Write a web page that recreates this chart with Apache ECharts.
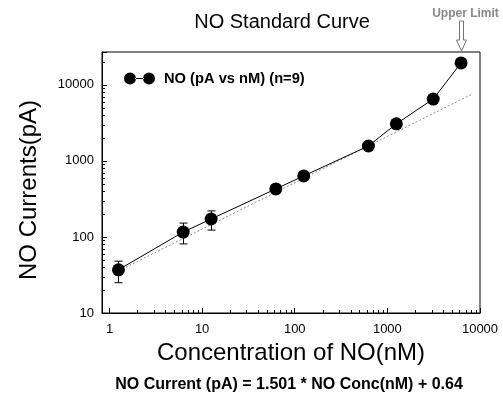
<!DOCTYPE html>
<html lang="en">
<head>
<meta charset="UTF-8">
<title>NO Standard Curve</title>
<script src="https://cdn.jsdelivr.net/npm/echarts@6/dist/echarts.min.js"></script>
<style>
    html, body { margin: 0; padding: 0; background: #fff; }
    #main { width: 503px; height: 407px; }
</style>
</head>
<body>
<div id="main"></div>
<script>
// standard curve data: concentration (nM) vs current (pA)
var conc = [1.25, 6.25, 12.5, 62.5, 125, 625, 1250, 3125, 6250];
var current = [37, 116, 172, 428, 635, 1570, 3070, 6500, 19400];
// error bars (only the first three stick out of the markers)
var errConc = [1.25, 6.25, 12.5];
var errLow = [25, 81, 123];
var errHigh = [48, 152, 220];
// regression line end points
var fitConc = [1.15, 8300];
var fitCurrent = [34, 7600];
// axes
var xMin = 0.83, xMax = 10000;
var yMin = 10, yMax = 27000;
var xMinor = [2, 3, 4, 5, 6, 7, 8, 9, 20, 30, 40, 50, 60, 70, 80, 90,
    200, 300, 400, 500, 600, 700, 800, 900, 2000, 3000, 4000, 5000, 6000, 7000, 8000, 9000];
var yMinor = [20, 30, 40, 50, 60, 70, 80, 90, 200, 300, 400, 500, 600, 700, 800, 900,
    2000, 3000, 4000, 5000, 6000, 7000, 8000, 9000, 20000];
var upperLimitConc = 6250;

var font = '"Liberation Sans", Arial, sans-serif';
var seriesName = 'NO (pA vs nM) (n=9)';

function powLabel(v) {
    var l = Math.log10(v);
    return Math.abs(l - Math.round(l)) < 1e-6 ? String(Math.round(v)) : '';
}

var myChart = echarts.init(document.getElementById('main'));

var option = {
    animation: false,
    backgroundColor: '#fff',
    title: [{
        text: 'NO Standard Curve',
        left: 277,
        top: 7,
        textAlign: 'center',
        textStyle: { fontFamily: font, fontSize: 20, fontWeight: 'normal', color: '#000' }
    }, {
        text: 'NO Current (pA) = 1.501 * NO Conc(nM) + 0.64',
        left: 284,
        top: 372,
        textAlign: 'center',
        textStyle: { fontFamily: font, fontSize: 16, fontWeight: 'bold', color: '#000' }
    }],
    legend: {
        left: 119,
        top: 66,
        itemWidth: 31,
        itemHeight: 13,
        textStyle: { fontFamily: font, fontSize: 14.7, fontWeight: 'bold', color: '#000', padding: [0, 0, 0, 4] },
        data: [{
            name: seriesName,
            icon: 'path://M0,6a6,6 0 1,0 12,0a6,6 0 1,0 -12,0Z M11,5.5h9v1h-9Z M19,6a6,6 0 1,0 12,0a6,6 0 1,0 -12,0Z'
        }]
    },
    grid: {
        left: 102, right: 23, top: 52, bottom: 94,
        show: true, borderColor: '#000', borderWidth: 1
    },
    xAxis: {
        type: 'log',
        min: xMin,
        max: xMax,
        name: 'Concentration of NO(nM)',
        nameLocation: 'middle',
        nameGap: 28,
        nameTextStyle: { fontFamily: font, fontSize: 24, color: '#000' },
        axisLine: { lineStyle: { color: '#000', width: 1 } },
        axisTick: { inside: true, length: 5, lineStyle: { color: '#000' } },
        axisLabel: { formatter: powLabel, fontFamily: font, fontSize: 13, color: '#000', margin: 10 },
        splitLine: { show: false }
    },
    yAxis: {
        type: 'log',
        min: yMin,
        max: yMax,
        name: 'NO Currents(pA)',
        nameLocation: 'middle',
        nameGap: 61,
        nameTextStyle: { fontFamily: font, fontSize: 24, color: '#000', padding: [0, 15, 0, 0] },
        axisLine: { lineStyle: { color: '#000', width: 1 } },
        axisTick: { inside: true, length: 5, lineStyle: { color: '#000' } },
        axisLabel: { formatter: powLabel, fontFamily: font, fontSize: 13, color: '#000', margin: 8 },
        splitLine: { show: false }
    },
    series: [{
        name: 'fit',
        type: 'line',
        symbol: 'none',
        silent: true,
        lineStyle: { color: '#8a8a8a', width: 1, type: [2, 2] },
        data: fitConc.map(function (c, i) { return [c, fitCurrent[i]]; }),
        z: 1
    }, {
        name: 'xminor',
        type: 'custom',
        silent: true,
        clip: false,
        data: xMinor.map(function (v) { return [v, yMin]; }),
        renderItem: function (params, api) {
            var p = api.coord([api.value(0), api.value(1)]);
            var x = Math.round(p[0]) + 0.5;
            return { type: 'line', shape: { x1: x, y1: p[1], x2: x, y2: p[1] - 3 },
                style: { stroke: '#000', lineWidth: 1 } };
        },
        z: 1
    }, {
        name: 'yminor',
        type: 'custom',
        silent: true,
        clip: false,
        data: yMinor.map(function (v) { return [xMin, v]; }),
        renderItem: function (params, api) {
            var p = api.coord([api.value(0), api.value(1)]);
            var y = Math.round(p[1]) + 0.5;
            return { type: 'line', shape: { x1: p[0], y1: y, x2: p[0] + 3, y2: y },
                style: { stroke: '#000', lineWidth: 1 } };
        },
        z: 1
    }, {
        name: 'errors',
        type: 'custom',
        silent: true,
        data: errConc.map(function (c, i) { return [c, errLow[i], errHigh[i]]; }),
        renderItem: function (params, api) {
            var lo = api.coord([api.value(0), api.value(1)]);
            var hi = api.coord([api.value(0), api.value(2)]);
            var x = Math.round(lo[0]) + 0.5, w = 4;
            var st = { stroke: '#000', lineWidth: 1 };
            return { type: 'group', children: [
                { type: 'line', shape: { x1: x, y1: lo[1], x2: x, y2: hi[1] }, style: st },
                { type: 'line', shape: { x1: x - w, y1: lo[1], x2: x + w, y2: lo[1] }, style: st },
                { type: 'line', shape: { x1: x - w, y1: hi[1], x2: x + w, y2: hi[1] }, style: st }
            ] };
        },
        z: 2
    }, {
        name: seriesName,
        type: 'line',
        symbol: 'circle',
        symbolSize: 13,
        itemStyle: { color: '#000' },
        lineStyle: { color: '#000', width: 1 },
        data: conc.map(function (c, i) { return [c, current[i]]; }),
        z: 3
    }]
};
myChart.setOption(option);

// "Upper Limit" marker above the last standard
var tip = myChart.convertToPixel({ gridIndex: 0 }, [upperLimitConc, yMax]);
var ax = Math.round(tip[0]) + 0.5, ay = tip[1];
myChart.setOption({
    graphic: [{
        type: 'text',
        x: ax + 4,
        y: 14,
        style: { text: 'Upper Limit', font: 'bold 12px ' + font, fill: '#888', align: 'center', verticalAlign: 'middle' }
    }, {
        type: 'polygon',
        shape: { points: [
            [ax - 2, ay - 31], [ax + 2, ay - 31], [ax + 2, ay - 12], [ax + 5, ay - 12],
            [ax, ay - 1], [ax - 5, ay - 12], [ax - 2, ay - 12]
        ] },
        style: { fill: '#fff', stroke: '#777', lineWidth: 1 }
    }]
});
</script>
</body>
</html>
